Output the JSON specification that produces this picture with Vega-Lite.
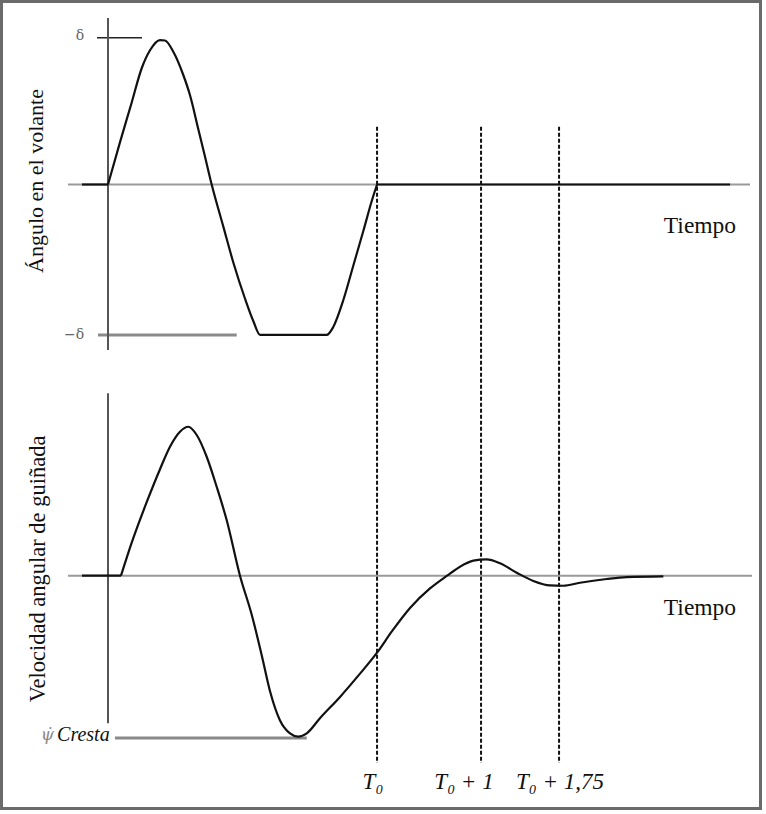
{
  "$schema": "https://vega.github.io/schema/vega-lite/v6.json",
  "width": 759,
  "height": 807,
  "autosize": "none",
  "padding": {"left": 1.5, "top": 1.5, "right": 1.5, "bottom": 1.5},
  "background": "white",
  "config": {"view": {"stroke": "#6a6a6a", "strokeWidth": 3}, "font": "Liberation Serif"},
  "layer": [
    {
      "layer": [
        {
          "data": {"values": [{"t": -0.385, "t2": 6.173, "a": 0}]},
          "mark": {"type": "rule", "color": "#9a9a9a", "strokeWidth": 2},
          "encoding": {
            "x": {"field": "t", "type": "quantitative", "scale": {"domain": [-1.024, 6.274], "nice": false, "zero": false}, "axis": null},
            "x2": {"field": "t2"},
            "y": {"field": "a", "type": "quantitative", "scale": {"domain": [-4.16, 1.22], "nice": false, "zero": false}, "axis": null}
          }
        },
        {
          "data": {"values": [{"t": -0.096, "t2": 1.2375, "a": -1.003}]},
          "mark": {"type": "rule", "color": "#8a8a8a", "strokeWidth": 3},
          "encoding": {
            "x": {"field": "t", "type": "quantitative", "scale": {"domain": [-1.024, 6.274], "nice": false, "zero": false}, "axis": null},
            "x2": {"field": "t2"},
            "y": {"field": "a", "type": "quantitative", "scale": {"domain": [-4.16, 1.22], "nice": false, "zero": false}, "axis": null}
          }
        },
        {
          "data": {"values": [{"t": -0.106, "t2": 0.327, "a": 0.979}]},
          "mark": {"type": "rule", "color": "#222222", "strokeWidth": 1.5},
          "encoding": {
            "x": {"field": "t", "type": "quantitative", "scale": {"domain": [-1.024, 6.274], "nice": false, "zero": false}, "axis": null},
            "x2": {"field": "t2"},
            "y": {"field": "a", "type": "quantitative", "scale": {"domain": [-4.16, 1.22], "nice": false, "zero": false}, "axis": null}
          }
        },
        {
          "data": {"values": [{"t": 0, "a": 1.11, "a2": -1.103}]},
          "mark": {"type": "rule", "color": "#555555", "strokeWidth": 2},
          "encoding": {
            "x": {"field": "t", "type": "quantitative", "scale": {"domain": [-1.024, 6.274], "nice": false, "zero": false}, "axis": null},
            "y": {"field": "a", "type": "quantitative", "scale": {"domain": [-4.16, 1.22], "nice": false, "zero": false}, "axis": null},
            "y2": {"field": "a2"}
          }
        },
        {
          "data": {"values": [
            {"seg": 1, "t": -0.25, "a": 0}, {"seg": 1, "t": 0, "a": 0},
            {"seg": 2, "t": 0, "a": 0}, {"seg": 2, "t": 0.115, "a": 0.281}, {"seg": 2, "t": 0.228, "a": 0.547},
            {"seg": 2, "t": 0.324, "a": 0.775}, {"seg": 2, "t": 0.404, "a": 0.895}, {"seg": 2, "t": 0.5, "a": 0.963}, {"seg": 2, "t": 0.548, "a": 0.96},
            {"seg": 2, "t": 0.628, "a": 0.885}, {"seg": 2, "t": 0.724, "a": 0.73}, {"seg": 2, "t": 0.788, "a": 0.597}, {"seg": 2, "t": 0.868, "a": 0.37},
            {"seg": 2, "t": 0.933, "a": 0.185}, {"seg": 2, "t": 0.997, "a": 0}, {"seg": 2, "t": 1.109, "a": -0.281}, {"seg": 2, "t": 1.205, "a": -0.52},
            {"seg": 2, "t": 1.317, "a": -0.76}, {"seg": 2, "t": 1.397, "a": -0.91}, {"seg": 2, "t": 1.462, "a": -1.003}, {"seg": 2, "t": 2.103, "a": -1.003},
            {"seg": 2, "t": 2.166, "a": -0.95}, {"seg": 2, "t": 2.263, "a": -0.77}, {"seg": 2, "t": 2.359, "a": -0.54}, {"seg": 2, "t": 2.455, "a": -0.31},
            {"seg": 2, "t": 2.536, "a": -0.11}, {"seg": 2, "t": 2.587, "a": 0},
            {"seg": 3, "t": 2.587, "a": 0}, {"seg": 3, "t": 5.981, "a": 0}
          ]},
          "mark": {"type": "line", "color": "#111111", "strokeWidth": 2.2, "strokeJoin": "round", "interpolate": "monotone"},
          "encoding": {
            "x": {"field": "t", "type": "quantitative", "scale": {"domain": [-1.024, 6.274], "nice": false, "zero": false}, "axis": null},
            "y": {"field": "a", "type": "quantitative", "scale": {"domain": [-4.16, 1.22], "nice": false, "zero": false}, "axis": null},
            "detail": {"field": "seg", "type": "nominal"}
          }
        },
        {
          "data": {"values": [{"t": -0.269, "a": 0.993, "label": "δ"}, {"t": -0.327, "a": -1.003, "label": "−δ"}]},
          "mark": {"type": "text", "font": "DejaVu Serif", "fontSize": 14, "color": "#666666", "align": "center", "baseline": "middle"},
          "encoding": {
            "x": {"field": "t", "type": "quantitative", "scale": {"domain": [-1.024, 6.274], "nice": false, "zero": false}, "axis": null},
            "y": {"field": "a", "type": "quantitative", "scale": {"domain": [-4.16, 1.22], "nice": false, "zero": false}, "axis": null},
            "text": {"field": "label"}
          }
        },
        {
          "data": {"values": [{"t": 5.692, "a": -0.323, "label": "Tiempo"}]},
          "mark": {"type": "text", "font": "Liberation Serif", "fontSize": 23.5, "color": "#111111", "align": "center", "baseline": "alphabetic"},
          "encoding": {
            "x": {"field": "t", "type": "quantitative", "scale": {"domain": [-1.024, 6.274], "nice": false, "zero": false}, "axis": null},
            "y": {"field": "a", "type": "quantitative", "scale": {"domain": [-4.16, 1.22], "nice": false, "zero": false}, "axis": null},
            "text": {"field": "label"}
          }
        },
        {
          "data": {"values": [{"t": -0.692, "a": 0.023, "label": "Ángulo en el volante"}]},
          "mark": {"type": "text", "font": "Liberation Serif", "fontSize": 22, "color": "#111111", "align": "center", "baseline": "middle", "angle": 270},
          "encoding": {
            "x": {"field": "t", "type": "quantitative", "scale": {"domain": [-1.024, 6.274], "nice": false, "zero": false}, "axis": null},
            "y": {"field": "a", "type": "quantitative", "scale": {"domain": [-4.16, 1.22], "nice": false, "zero": false}, "axis": null},
            "text": {"field": "label"}
          }
        }
      ]
    },
    {
      "layer": [
        {
          "data": {"values": [{"t": -0.385, "t2": 6.192, "w": 0}]},
          "mark": {"type": "rule", "color": "#9a9a9a", "strokeWidth": 2},
          "encoding": {
            "x": {"field": "t", "type": "quantitative", "scale": {"domain": [-1.024, 6.274], "nice": false, "zero": false}, "axis": null},
            "x2": {"field": "t2"},
            "y": {"field": "w", "type": "quantitative", "scale": {"domain": [-1.552, 3.828], "nice": false, "zero": false}, "axis": null}
          }
        },
        {
          "data": {"values": [{"t": 0.067, "t2": 1.911, "w": -1.082}]},
          "mark": {"type": "rule", "color": "#8a8a8a", "strokeWidth": 3},
          "encoding": {
            "x": {"field": "t", "type": "quantitative", "scale": {"domain": [-1.024, 6.274], "nice": false, "zero": false}, "axis": null},
            "x2": {"field": "t2"},
            "y": {"field": "w", "type": "quantitative", "scale": {"domain": [-1.552, 3.828], "nice": false, "zero": false}, "axis": null}
          }
        },
        {
          "data": {"values": [{"t": 0, "w": 1.216, "w2": -0.984}]},
          "mark": {"type": "rule", "color": "#555555", "strokeWidth": 2},
          "encoding": {
            "x": {"field": "t", "type": "quantitative", "scale": {"domain": [-1.024, 6.274], "nice": false, "zero": false}, "axis": null},
            "y": {"field": "w", "type": "quantitative", "scale": {"domain": [-1.552, 3.828], "nice": false, "zero": false}, "axis": null},
            "y2": {"field": "w2"}
          }
        },
        {
          "data": {"values": [{"t": 2.587, "w": 2.993, "w2": -1.249}, {"t": 3.587, "w": 2.993, "w2": -1.249}, {"t": 4.337, "w": 2.993, "w2": -1.249}]},
          "mark": {"type": "rule", "color": "#111111", "strokeWidth": 2, "strokeDash": [4, 2]},
          "encoding": {
            "x": {"field": "t", "type": "quantitative", "scale": {"domain": [-1.024, 6.274], "nice": false, "zero": false}, "axis": null},
            "y": {"field": "w", "type": "quantitative", "scale": {"domain": [-1.552, 3.828], "nice": false, "zero": false}, "axis": null},
            "y2": {"field": "w2"}
          }
        },
        {
          "data": {"values": [
            {"seg": 1, "t": -0.25, "w": 0}, {"seg": 1, "t": 0.125, "w": 0},
            {"seg": 2, "t": 0.125, "w": 0}, {"seg": 2, "t": 0.228, "w": 0.22}, {"seg": 2, "t": 0.372, "w": 0.49},
            {"seg": 2, "t": 0.5, "w": 0.71}, {"seg": 2, "t": 0.596, "w": 0.86}, {"seg": 2, "t": 0.692, "w": 0.96}, {"seg": 2, "t": 0.772, "w": 0.993},
            {"seg": 2, "t": 0.853, "w": 0.938}, {"seg": 2, "t": 0.949, "w": 0.793}, {"seg": 2, "t": 1.045, "w": 0.593}, {"seg": 2, "t": 1.141, "w": 0.371},
            {"seg": 2, "t": 1.269, "w": 0}, {"seg": 2, "t": 1.382, "w": -0.26}, {"seg": 2, "t": 1.478, "w": -0.53}, {"seg": 2, "t": 1.558, "w": -0.77},
            {"seg": 2, "t": 1.654, "w": -0.965}, {"seg": 2, "t": 1.75, "w": -1.051}, {"seg": 2, "t": 1.83, "w": -1.073}, {"seg": 2, "t": 1.911, "w": -1.051},
            {"seg": 2, "t": 2.038, "w": -0.95}, {"seg": 2, "t": 2.231, "w": -0.808}, {"seg": 2, "t": 2.423, "w": -0.653}, {"seg": 2, "t": 2.587, "w": -0.513},
            {"seg": 2, "t": 2.731, "w": -0.37}, {"seg": 2, "t": 2.904, "w": -0.215}, {"seg": 2, "t": 3.096, "w": -0.085}, {"seg": 2, "t": 3.26, "w": 0},
            {"seg": 2, "t": 3.385, "w": 0.06}, {"seg": 2, "t": 3.513, "w": 0.1}, {"seg": 2, "t": 3.641, "w": 0.109}, {"seg": 2, "t": 3.769, "w": 0.083},
            {"seg": 2, "t": 3.93, "w": 0.02}, {"seg": 2, "t": 4.09, "w": -0.035}, {"seg": 2, "t": 4.25, "w": -0.065}, {"seg": 2, "t": 4.378, "w": -0.067},
            {"seg": 2, "t": 4.538, "w": -0.047}, {"seg": 2, "t": 4.795, "w": -0.022}, {"seg": 2, "t": 4.988, "w": -0.009}, {"seg": 2, "t": 5.34, "w": -0.004}
          ]},
          "mark": {"type": "line", "color": "#111111", "strokeWidth": 2.2, "strokeJoin": "round", "interpolate": "monotone"},
          "encoding": {
            "x": {"field": "t", "type": "quantitative", "scale": {"domain": [-1.024, 6.274], "nice": false, "zero": false}, "axis": null},
            "y": {"field": "w", "type": "quantitative", "scale": {"domain": [-1.552, 3.828], "nice": false, "zero": false}, "axis": null},
            "detail": {"field": "seg", "type": "nominal"}
          }
        },
        {
          "data": {"values": [{"t": 5.692, "w": -0.262, "label": "Tiempo"}]},
          "mark": {"type": "text", "font": "Liberation Serif", "fontSize": 23.5, "color": "#111111", "align": "center", "baseline": "alphabetic"},
          "encoding": {
            "x": {"field": "t", "type": "quantitative", "scale": {"domain": [-1.024, 6.274], "nice": false, "zero": false}, "axis": null},
            "y": {"field": "w", "type": "quantitative", "scale": {"domain": [-1.552, 3.828], "nice": false, "zero": false}, "axis": null},
            "text": {"field": "label"}
          }
        },
        {
          "data": {"values": [{"t": 2.548, "w": -1.42, "label": "T₀"}, {"t": 3.423, "w": -1.42, "label": "T₀ + 1"}, {"t": 4.346, "w": -1.42, "label": "T₀ + 1,75"}]},
          "mark": {"type": "text", "font": "Liberation Serif", "fontSize": 23, "fontStyle": "italic", "color": "#111111", "align": "center", "baseline": "alphabetic"},
          "encoding": {
            "x": {"field": "t", "type": "quantitative", "scale": {"domain": [-1.024, 6.274], "nice": false, "zero": false}, "axis": null},
            "y": {"field": "w", "type": "quantitative", "scale": {"domain": [-1.552, 3.828], "nice": false, "zero": false}, "axis": null},
            "text": {"field": "label"}
          }
        },
        {
          "data": {"values": [{"t": -0.49, "w": -1.099, "label": "Cresta"}]},
          "mark": {"type": "text", "font": "Liberation Serif", "fontSize": 20, "fontStyle": "italic", "color": "#111111", "align": "left", "baseline": "alphabetic"},
          "encoding": {
            "x": {"field": "t", "type": "quantitative", "scale": {"domain": [-1.024, 6.274], "nice": false, "zero": false}, "axis": null},
            "y": {"field": "w", "type": "quantitative", "scale": {"domain": [-1.552, 3.828], "nice": false, "zero": false}, "axis": null},
            "text": {"field": "label"}
          }
        },
        {
          "data": {"values": [{"t": -0.519, "w": -1.092, "label": "ψ̇"}]},
          "mark": {"type": "text", "font": "DejaVu Serif", "fontSize": 17, "fontStyle": "italic", "color": "#8a8a8a", "align": "right", "baseline": "alphabetic"},
          "encoding": {
            "x": {"field": "t", "type": "quantitative", "scale": {"domain": [-1.024, 6.274], "nice": false, "zero": false}, "axis": null},
            "y": {"field": "w", "type": "quantitative", "scale": {"domain": [-1.552, 3.828], "nice": false, "zero": false}, "axis": null},
            "text": {"field": "label"}
          }
        },
        {
          "data": {"values": [{"t": -0.673, "w": 0.045, "label": "Velocidad angular de guiñada"}]},
          "mark": {"type": "text", "font": "Liberation Serif", "fontSize": 22.5, "color": "#111111", "align": "center", "baseline": "middle", "angle": 270},
          "encoding": {
            "x": {"field": "t", "type": "quantitative", "scale": {"domain": [-1.024, 6.274], "nice": false, "zero": false}, "axis": null},
            "y": {"field": "w", "type": "quantitative", "scale": {"domain": [-1.552, 3.828], "nice": false, "zero": false}, "axis": null},
            "text": {"field": "label"}
          }
        }
      ]
    }
  ],
  "resolve": {"scale": {"y": "independent"}}
}
